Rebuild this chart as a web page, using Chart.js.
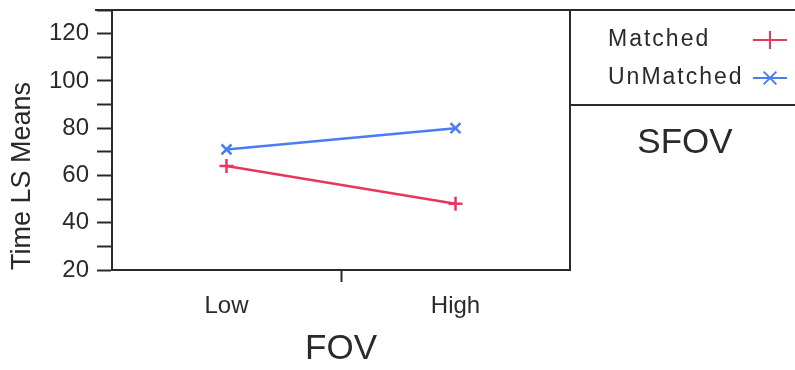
<!DOCTYPE html>
<html>
<head>
<meta charset="utf-8">
<script src="https://cdn.jsdelivr.net/npm/chart.js@4/dist/chart.umd.min.js"></script>
<style>
  html, body { margin: 0; padding: 0; background: #fff; }
  #wrap { width: 795px; height: 370px; }
</style>
</head>
<body>
<div id="wrap"><canvas id="chart" width="795" height="370"></canvas></div>
<script>
// data
const categories = ['Low', 'High'];
const matched = [64, 48];
const unmatched = [71, 80];
const seriesNames = ['Matched', 'UnMatched'];
const legendTitle = 'SFOV';

const RED = '#e8355c';
const BLUE = '#4a7cf2';
const INK = '#2a2a2a';
const FONT = "'Liberation Sans', Arial, sans-serif";

// Low sits at x=1, High at x=3, tick mark in the middle at x=2
function toPoints(values) {
  return values.map((v, i) => ({ x: i * 2 + 1, y: v }));
}

// frame, legend panel and its texts
const framePlugin = {
  id: 'frame',
  afterDraw(chart) {
    const ctx = chart.ctx;
    const a = chart.chartArea;
    ctx.save();
    ctx.strokeStyle = INK;
    ctx.lineWidth = 2;
    ctx.beginPath();
    // top line runs across plot and legend panel
    ctx.moveTo(95, a.top);
    ctx.lineTo(795, a.top);
    // right edge of plot
    ctx.moveTo(a.right, a.top);
    ctx.lineTo(a.right, a.bottom);
    // legend separator
    ctx.moveTo(a.right, 105);
    ctx.lineTo(795, 105);
    ctx.stroke();

    ctx.font = '23px ' + FONT;
    ctx.textBaseline = 'middle';
    ctx.textAlign = 'left';
    const rows = [40, 78];
    const styles = [
      { color: RED, pointStyle: 'cross' },
      { color: BLUE, pointStyle: 'crossRot' }
    ];
    seriesNames.forEach((name, i) => {
      ctx.fillStyle = INK;
      ctx.letterSpacing = '2px';
      ctx.fillText(name, 608, rows[i]);
      ctx.letterSpacing = '0px';
      ctx.strokeStyle = styles[i].color;
      ctx.lineWidth = 2;
      ctx.beginPath();
      ctx.moveTo(753, rows[i]);
      ctx.lineTo(787, rows[i]);
      ctx.stroke();
      Chart.helpers.drawPoint(ctx, {
        pointStyle: styles[i].pointStyle, radius: 9, borderWidth: 2.5, rotation: 0
      }, 770, rows[i]);
    });

    ctx.fillStyle = INK;
    ctx.font = '35px ' + FONT;
    ctx.textAlign = 'center';
    ctx.fillText(legendTitle, 685, 143);
    ctx.restore();
  }
};

const ctx = document.getElementById('chart');
new Chart(ctx, {
  type: 'line',
  data: {
    datasets: [
      {
        label: seriesNames[0],
        data: toPoints(matched),
        borderColor: RED,
        backgroundColor: RED,
        borderWidth: 2.5,
        pointStyle: 'cross',
        pointRadius: 7,
        pointBorderWidth: 2.5
      },
      {
        label: seriesNames[1],
        data: toPoints(unmatched),
        borderColor: BLUE,
        backgroundColor: BLUE,
        borderWidth: 2.5,
        pointStyle: 'crossRot',
        pointRadius: 7,
        pointBorderWidth: 2.5
      }
    ]
  },
  options: {
    responsive: false,
    animation: false,
    layout: { padding: { top: 10, right: 225, left: 0, bottom: 0 } },
    plugins: {
      legend: { display: false },
      tooltip: { enabled: false }
    },
    scales: {
      x: {
        type: 'linear',
        min: 0,
        max: 4,
        afterBuildTicks: (scale) => {
          scale.ticks = [{ value: 1 }, { value: 2 }, { value: 3 }];
        },
        afterFit: (scale) => {
          scale.height = 100;
          scale.paddingLeft = 0;
          scale.paddingRight = 0;
        },
        ticks: {
          color: INK,
          font: { family: FONT, size: 24 },
          padding: 10,
          maxRotation: 0,
          autoSkip: false,
          callback: (v) => (v === 1 ? categories[0] : v === 3 ? categories[1] : '')
        },
        grid: {
          drawOnChartArea: false,
          tickLength: 12,
          tickWidth: 2,
          tickColor: (c) => (c.tick && c.tick.value === 2 ? INK : 'rgba(0,0,0,0)')
        },
        border: { display: true, color: INK, width: 2 },
        title: {
          display: true,
          text: 'FOV',
          color: INK,
          font: { family: FONT, size: 35, lineHeight: 1.2 },
          padding: { top: 0, bottom: 0 }
        }
      },
      y: {
        min: 20,
        max: 130,
        afterFit: (scale) => {
          scale.width = 112;
          scale.paddingTop = 0;
          scale.paddingBottom = 0;
        },
        ticks: {
          stepSize: 10,
          autoSkip: false,
          color: INK,
          font: { family: FONT, size: 24 },
          padding: 8,
          callback: (v) => (v % 20 === 0 ? v : '')
        },
        grid: {
          drawOnChartArea: false,
          tickLength: 15,
          tickWidth: 2,
          tickColor: INK
        },
        border: { display: true, color: INK, width: 2 },
        title: {
          display: true,
          text: 'Time LS Means',
          align: 'start',
          color: INK,
          font: { family: FONT, size: 27, lineHeight: 1.2 },
          padding: { top: 6, bottom: 0 }
        }
      }
    }
  },
  plugins: [framePlugin]
});
</script>
</body>
</html>
